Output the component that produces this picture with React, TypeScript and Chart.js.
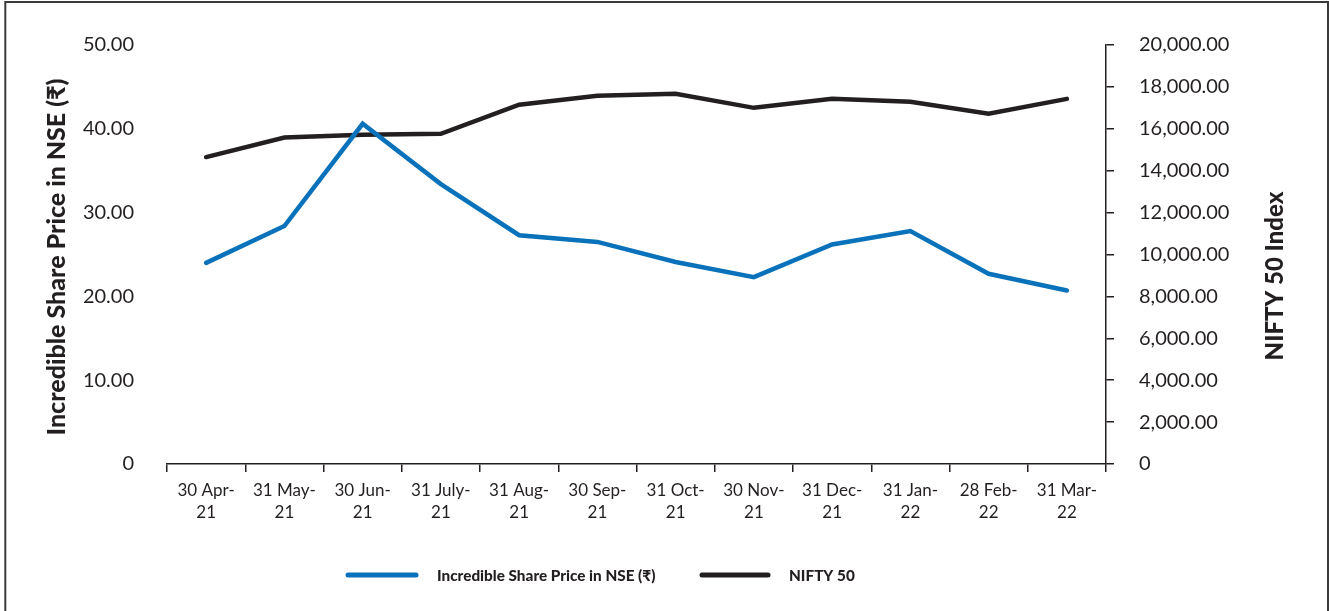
import React, { useEffect, useRef } from "react";
import { Chart, registerables } from "chart.js";

Chart.register(...registerables);

// ---- Data ----
const categories: string[][] = [
  ["30 Apr-", "21"],
  ["31 May-", "21"],
  ["30 Jun-", "21"],
  ["31 July-", "21"],
  ["31 Aug-", "21"],
  ["30 Sep-", "21"],
  ["31 Oct-", "21"],
  ["30 Nov-", "21"],
  ["31 Dec-", "21"],
  ["31 Jan-", "22"],
  ["28 Feb-", "22"],
  ["31 Mar-", "22"],
];

const sharePrice: number[] = [24.0, 28.4, 40.6, 33.4, 27.3, 26.5, 24.1, 22.3, 26.2, 27.8, 22.7, 20.7];
const nifty50: number[] = [14650, 15580, 15720, 15760, 17150, 17580, 17670, 17000, 17430, 17290, 16720, 17430];

const seriesNames: string[] = ["Incredible Share Price in NSE (₹)", "NIFTY 50"];
const leftAxisTitle = "Incredible Share Price in NSE (₹)";
const rightAxisTitle = "NIFTY 50 Index";

const leftMin = 0;
const leftMax = 50;
const leftStep = 10;
const rightMin = 0;
const rightMax = 20000;
const rightStep = 2000;

const BLUE = "#0a72ba";
const DARK = "#231f20";
const FONT = "Lato, 'Noto Sans', 'DejaVu Sans', sans-serif";

const W = 1329;
const H = 611;

const fmt = (v: number) =>
  v === 0 ? "0" : v.toLocaleString("en-US", { minimumFractionDigits: 2, maximumFractionDigits: 2 });

const decorPlugin = {
  id: "decor",
  afterDraw(chart: any) {
    const ctx: CanvasRenderingContext2D = chart.ctx;
    const area = chart.chartArea;
    ctx.save();
    // frame
    ctx.strokeStyle = "#3a3a3a";
    ctx.lineWidth = 2;
    ctx.beginPath();
    ctx.moveTo(5.3, H);
    ctx.lineTo(5.3, 2);
    ctx.lineTo(1328, 2);
    ctx.lineTo(1328, H);
    ctx.stroke();

    // axis titles
    ctx.fillStyle = DARK;
    ctx.textAlign = "center";
    ctx.textBaseline = "middle";
    ctx.save();
    ctx.font = `900 25px ${FONT}`;
    ctx.translate(area.left - 110, 257);
    ctx.rotate(-Math.PI / 2);
    ctx.fillText(leftAxisTitle, 0, 0);
    ctx.restore();
    ctx.save();
    ctx.font = `900 24px ${FONT}`;
    ctx.translate(area.right + 169, 276);
    ctx.rotate(-Math.PI / 2);
    ctx.fillText(rightAxisTitle, 0, 0);
    ctx.restore();

    // legend
    const ly = 575;
    const items = chart.data.datasets.map((d: any) => ({ label: d.label, color: d.borderColor }));
    const starts = [348, 702];
    const lineLen = [68, 66];
    ctx.font = `900 15.3px ${FONT}`;
    ctx.textAlign = "left";
    items.forEach((it: any, i: number) => {
      const x0 = starts[i];
      ctx.strokeStyle = it.color;
      ctx.lineWidth = 5;
      ctx.lineCap = "round";
      ctx.beginPath();
      ctx.moveTo(x0, ly);
      ctx.lineTo(x0 + lineLen[i], ly);
      ctx.stroke();
      ctx.fillStyle = DARK;
      ctx.fillText(it.label, x0 + lineLen[i] + 21, ly + 1);
    });
    ctx.restore();
  },
};

export default function App() {
  const canvasRef = useRef<HTMLCanvasElement | null>(null);

  useEffect(() => {
    if (!canvasRef.current) return;
    const chart = new Chart(canvasRef.current, {
      type: "line",
      data: {
        labels: categories as any,
        datasets: [
          {
            label: seriesNames[0],
            data: sharePrice,
            borderColor: BLUE,
            backgroundColor: BLUE,
            borderWidth: 4.5,
            pointRadius: 0,
            tension: 0,
            borderCapStyle: "round",
            yAxisID: "y",
          },
          {
            label: seriesNames[1],
            data: nifty50,
            borderColor: DARK,
            backgroundColor: DARK,
            borderWidth: 4.5,
            pointRadius: 0,
            tension: 0,
            borderCapStyle: "round",
            yAxisID: "y1",
          },
        ],
      },
      options: {
        animation: false,
        responsive: true,
        maintainAspectRatio: false,
        devicePixelRatio: 1,
        layout: { padding: { top: 43, left: 0, right: 0, bottom: 0 } },
        plugins: {
          legend: { display: false },
          tooltip: { enabled: false },
        },
        scales: {
          x: {
            type: "category",
            offset: true,
            grid: {
              display: true,
              offset: true,
              drawOnChartArea: false,
              drawTicks: true,
              tickLength: 8,
              color: DARK,
              lineWidth: 1.5,
            },
            border: { display: true, color: DARK, width: 1.5 },
            ticks: {
              color: DARK,
              font: { family: FONT, size: 17, lineHeight: 1.3 },
              padding: 7,
              maxRotation: 0,
              autoSkip: false,
            },
            afterFit: (scale: any) => {
              scale.height = H - 464;
            },
          },
          y: {
            position: "left",
            min: leftMin,
            max: leftMax,
            grid: { display: false, drawTicks: false },
            border: { display: false },
            ticks: {
              stepSize: leftStep,
              color: DARK,
              font: { family: FONT, size: 20 },
              padding: 33,
              callback: (v: any) => fmt(Number(v)),
            },
            afterFit: (scale: any) => {
              scale.width = 167;
            },
          },
          y1: {
            position: "right",
            min: rightMin,
            max: rightMax,
            grid: {
              display: true,
              drawOnChartArea: false,
              drawTicks: true,
              tickLength: 8,
              color: DARK,
              lineWidth: 1.5,
            },
            border: { display: true, color: DARK, width: 1.5 },
            ticks: {
              stepSize: rightStep,
              color: DARK,
              font: { family: FONT, size: 20 },
              padding: 25,
              callback: (v: any) => fmt(Number(v)),
            },
            afterFit: (scale: any) => {
              scale.width = W - 1106;
            },
          },
        },
      },
      plugins: [decorPlugin],
    } as any);
    return () => chart.destroy();
  }, []);

  return (
    <div style={{ position: "absolute", left: 0, top: 0, width: W, height: H, background: "#fff" }}>
      <canvas ref={canvasRef} />
    </div>
  );
}
